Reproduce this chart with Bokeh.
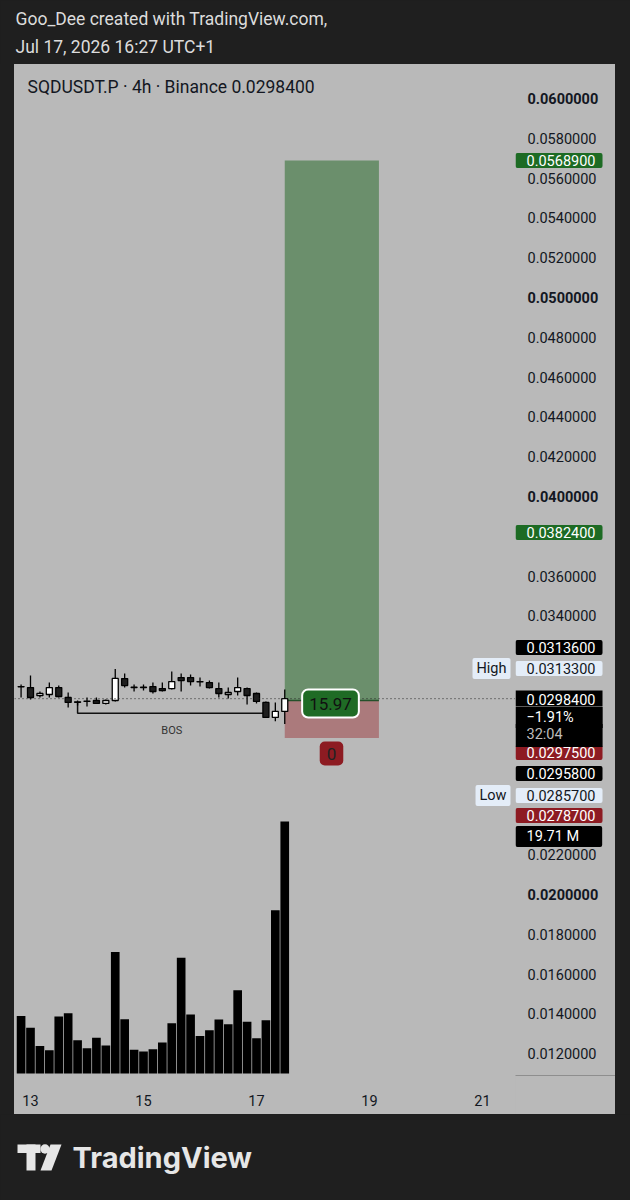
import pandas as pd
from bokeh.plotting import figure
from bokeh.models import (Range1d, FixedTicker, DatetimeTickFormatter,
                          Label, Span, ColumnDataSource, Spacer)
from bokeh.layouts import column, row
from bokeh.embed import file_html
from bokeh.resources import INLINE
from bokeh.core.properties import value

# ---------------- data ----------------
header_line1 = "Goo_Dee created with TradingView.com,"
header_line2 = "Jul 17, 2026 16:27 UTC+1"
symbol_title = "SQDUSDT.P · 4h · Binance  0.0298400"
first_candle = "2026-07-12 20:00"

opens = [0.03044, 0.03040, 0.02999, 0.03005, 0.03040, 0.02990, 0.02968, 0.02970, 0.02975, 0.02960,
         0.02975, 0.03085, 0.03042, 0.03040, 0.03045, 0.03035, 0.03035, 0.03090, 0.03090, 0.03068,
         0.03065, 0.03035, 0.03005, 0.03020, 0.03035, 0.03010, 0.02965, 0.02890, 0.02920]
highs = [0.03055, 0.03100, 0.03020, 0.03065, 0.03050, 0.03015, 0.02975, 0.02990, 0.02990, 0.02980,
         0.03133, 0.03110, 0.03055, 0.03055, 0.03065, 0.03065, 0.03120, 0.03110, 0.03105, 0.03090,
         0.03075, 0.03065, 0.03040, 0.03090, 0.03040, 0.03015, 0.02970, 0.02965, 0.03030]
lows = [0.02990, 0.02980, 0.02990, 0.02990, 0.02990, 0.02940, 0.02950, 0.02945, 0.02958, 0.02955,
        0.02970, 0.03040, 0.03020, 0.03025, 0.03010, 0.03020, 0.03030, 0.03020, 0.03050, 0.03045,
        0.03035, 0.02990, 0.02985, 0.03000, 0.02955, 0.02960, 0.02888, 0.02870, 0.02857]
closes = [0.03045, 0.02990, 0.03010, 0.03040, 0.02995, 0.02965, 0.02966, 0.02972, 0.02960, 0.02975,
          0.03086, 0.03050, 0.03040, 0.03042, 0.03020, 0.03025, 0.03070, 0.03075, 0.03070, 0.03070,
          0.03040, 0.03010, 0.03015, 0.03040, 0.03000, 0.02970, 0.02890, 0.02920, 0.02984]
volumes_m = [4.50, 3.57, 2.16, 1.82, 4.45, 4.71, 2.60, 1.98, 2.79, 2.19,
             9.50, 4.24, 1.85, 1.72, 1.90, 2.42, 3.93, 9.06, 4.61, 2.94,
             3.38, 4.22, 3.85, 6.51, 4.04, 2.76, 4.17, 12.76, 19.71]

day_ticks = ["2026-07-13", "2026-07-15", "2026-07-17", "2026-07-19", "2026-07-21"]
price_ticks = [round(0.012 + 0.002 * i, 3) for i in range(25)]
bold_price_ticks = [0.02, 0.03, 0.04, 0.05, 0.06]
hidden_price_ticks = [0.024, 0.026, 0.028, 0.030, 0.032, 0.038]   # covered by price badges

last_price = 0.02984
entry_price = 0.02975
target_price = 0.05689
stop_price = 0.02787
position_bars = 10
position_label = "15.97"
stop_label = "0"
bos_start_level = 0.02966
bos_level = 0.02911
bos_from, bos_to = 6, 26

# price-scale badges: (text, page y, kind)
badges = [
    ("0.0568900", 160, "green"),
    ("0.0382400", 532, "green"),
    ("0.0313600", 647, "black"),
    ("0.0313300", 668, "light"),
    ("0.0297500", 752, "red"),
    ("0.0295800", 773, "black"),
    ("0.0285700", 795, "light"),
    ("0.0278700", 815, "red"),
    ("19.71 M", 836, "black"),
]
side_tags = [("High", 668), ("Low", 795)]
price_box_lines = [("0.0298400", 698, "#ffffff"), ("\u22121.91%", 717, "#ffffff"), ("32:04", 735, "#bdbdbd")]

# ---------------- style ----------------
FONT = "Roboto"
PAGE_BG = "#1f1f1f"
PANEL = "#b9b9b9"
INK = "#131722"
GREEN_BOX = "#6b8f6c"
RED_BOX = "#ab7a7c"
BADGE = {"green": ("#1d6b24", "#ffffff"), "red": ("#8d1b22", "#ffffff"),
         "black": ("#000000", "#ffffff"), "light": ("#e4edf8", INK)}

bar_ms = 4 * 3600 * 1000
day_ms = 24 * 3600 * 1000
times = pd.date_range(first_candle, periods=len(opens), freq="4h")
tms = [t.value / 1e6 for t in times]

# calibration of page pixels -> data (for annotation placement only)
PX_DAY = 56.5
X13 = 30
t13 = pd.Timestamp("2026-07-13").value / 1e6


def xpx(px):
    return t13 + (px - X13) / PX_DAY * day_ms


def ypx(py):
    return 0.06 - (py - 98) / 19900.0


CHART_H = 1050
AXIS_H = 39
yr = Range1d(ypx(1075), ypx(64))

# ---------------- main chart ----------------
p = figure(width=501, height=CHART_H, x_axis_type="datetime", y_axis_location=None, title=None,
           x_range=Range1d(xpx(14), xpx(515)), y_range=yr,
           toolbar_location=None, output_backend="svg",
           min_border_left=0, min_border_top=0, min_border_right=0, min_border_bottom=AXIS_H,
           background_fill_color=PANEL, border_fill_color=PANEL, outline_line_color=None)
p.grid.visible = False

vol_scale = 19.71 / (1073 - 821)
p.extra_y_ranges = {"vol": Range1d(-(1075 - 1073) * vol_scale, (1073 - 64) * vol_scale)}

src = ColumnDataSource(dict(
    t=times, o=opens, h=highs, l=lows, c=closes, v=volumes_m,
    top=[max(o, c) for o, c in zip(opens, closes)],
    bot=[min(o, c) for o, c in zip(opens, closes)],
    fill=["#ffffff" if c >= o else "#1e1e1e" for o, c in zip(opens, closes)],
))

# volume
p.vbar(x="t", width=bar_ms * 0.92, top="v", bottom=0, y_range_name="vol", source=src,
       fill_color="#000000", line_color=None)

# position tool
pos_left = times[-1]
pos_right = times[-1] + pd.Timedelta(hours=4 * position_bars)
p.quad(left=[pos_left], right=[pos_right], bottom=[entry_price], top=[target_price],
       fill_color=GREEN_BOX, line_color=None)
p.quad(left=[pos_left], right=[pos_right], bottom=[stop_price], top=[entry_price],
       fill_color=RED_BOX, line_color=None)
p.segment(x0=[pos_left], y0=[entry_price], x1=[pos_right], y1=[entry_price],
          line_color="#24502a", line_width=1.5)

# BOS drawing
p.line(x=[times[bos_from], times[bos_from], times[bos_to]],
       y=[bos_start_level, bos_level, bos_level], line_color="#111111", line_width=1.5)

# candles
p.segment(x0="t", y0="l", x1="t", y1="h", source=src, line_color="#000000", line_width=1.3)
p.vbar(x="t", width=bar_ms * 0.64, top="top", bottom="bot", source=src,
       fill_color="fill", line_color="#000000", line_width=1.3)

p.add_layout(Span(location=last_price, dimension="width", line_color="#222222",
                  line_dash="1 3", line_width=1))

# time axis
p.xaxis.ticker = FixedTicker(ticks=[pd.Timestamp(d).value / 1e6 for d in day_ticks])
p.xaxis.formatter = DatetimeTickFormatter(days="%d", months="%d", hours="%d", years="%d")
ax = p.xaxis[0]
ax.axis_line_color = None
ax.major_tick_line_color = None
ax.minor_tick_line_color = None
ax.major_label_text_font = FONT
ax.major_label_text_font_size = "14.5px"
ax.major_label_text_color = INK
ax.major_label_standoff = 13

# texts in chart
p.add_layout(Label(x=xpx(27), y=ypx(86), text=symbol_title, text_font=FONT,
                   text_font_size="17.5px", text_color=INK, text_baseline="middle"))
p.add_layout(Label(x=(tms[bos_from] + tms[bos_to]) / 2, y=ypx(730), text="BOS", text_font=FONT,
                   text_font_size="11px", text_color="#333333", text_align="center",
                   text_baseline="middle"))
p.add_layout(Label(x=xpx(330), y=ypx(703), text=position_label, text_font=FONT,
                   text_font_size="17px", text_color="#111111", text_align="center",
                   text_baseline="middle", background_fill_color="#1f6b25",
                   border_line_color="#ffffff", border_line_width=2,
                   padding=dict(left=7, right=7, top=8, bottom=8), border_radius=6))
p.add_layout(Label(x=xpx(331), y=ypx(753), text=stop_label, text_font=FONT,
                   text_font_size="17px", text_color="#222222", text_align="center",
                   text_baseline="middle", background_fill_color="#8d1b22",
                   padding=dict(left=7, right=7, top=6, bottom=6), border_radius=5))
for txt, py in side_tags:
    p.add_layout(Label(x=xpx(510), y=ypx(py), text=txt, text_font=FONT, text_font_size="14.5px",
                       text_color=INK, text_align="right", text_baseline="middle",
                       background_fill_color=BADGE["light"][0],
                       padding=dict(left=4, right=4, top=2, bottom=2), border_radius=2))

# ---------------- price scale column ----------------
ps = figure(width=100, height=CHART_H, x_range=Range1d(0, 100), y_range=yr, title=None,
            y_axis_location=None, toolbar_location=None, output_backend="svg",
            min_border_left=0, min_border_top=0, min_border_right=0, min_border_bottom=AXIS_H,
            background_fill_color=PANEL, border_fill_color=PANEL, outline_line_color=None)
ps.grid.visible = False
ps.xaxis.ticker = FixedTicker(ticks=[])
ps.xaxis.axis_line_color = "#8e8e8e"
ps.xaxis.axis_line_width = 1
ps.xaxis.major_tick_line_color = None
ps.xaxis.minor_tick_line_color = None


def _in(t, lst):
    return any(abs(t - b) < 1e-9 for b in lst)


tick_src = ColumnDataSource(dict(
    y=price_ticks,
    label=["" if _in(t, hidden_price_ticks) else "%.7f" % t for t in price_ticks],
    style=["bold" if _in(t, bold_price_ticks) else "normal" for t in price_ticks],
))
ps.text(x=12, y="y", text="label", source=tick_src, text_font=value(FONT),
        text_font_size="14.5px", text_font_style="style", text_color=INK,
        text_baseline="middle", text_align="left")

for txt, py, kind in badges:
    bg, fg = BADGE[kind]
    w = 69 if "M" not in txt else 53
    ps.add_layout(Label(x=0, y=ypx(py), text=txt, text_font=FONT, text_font_size="14.5px",
                        text_color=fg, text_baseline="middle", background_fill_color=bg,
                        padding=dict(left=11, right=max(6, 76 - w), top=2, bottom=2),
                        border_radius=2))
for i, (txt, py, col) in enumerate(price_box_lines):
    w = {0: 69, 1: 47, 2: 36}[i]
    ps.add_layout(Label(x=0, y=ypx(py), text=txt, text_font=FONT, text_font_size="14.5px",
                        text_color=col, text_baseline="middle", background_fill_color="#000000",
                        padding=dict(left=11, right=76 - w, top=2 if i else 3,
                                     bottom=2 if i < 2 else 4)))

# ---------------- header ----------------
hdr = figure(width=630, height=64, x_range=Range1d(0, 630), y_range=Range1d(0, 64), title=None,
             toolbar_location=None, output_backend="svg", min_border=0,
             x_axis_location=None, y_axis_location=None,
             background_fill_color=PAGE_BG, border_fill_color=PAGE_BG, outline_line_color=None)
hdr.grid.visible = False
hdr.add_layout(Label(x=15, y=46, text=header_line1, text_font=FONT, text_font_size="17.5px",
                     text_color="#dcdcdc", text_baseline="middle"))
hdr.add_layout(Label(x=15, y=18, text=header_line2, text_font=FONT, text_font_size="17.5px",
                     text_color="#dcdcdc", text_baseline="middle"))

# ---------------- footer ----------------
FT_H = 86
ftr = figure(width=630, height=FT_H, x_range=Range1d(0, 630), y_range=Range1d(0, FT_H), title=None,
             toolbar_location=None, output_backend="svg", min_border=0,
             x_axis_location=None, y_axis_location=None,
             background_fill_color=PAGE_BG, border_fill_color=PAGE_BG, outline_line_color=None)
ftr.grid.visible = False
LOGO = "#e6e6e6"
cy = 43
ftr.quad(left=[17, 26], right=[40, 35], bottom=[cy + 4.5, cy - 13], top=[cy + 13, cy + 13],
         fill_color=LOGO, line_color=None)
ftr.circle(x=[44.5], y=[cy + 8.5], radius=4.7, fill_color=LOGO, line_color=None)
ftr.patch(x=[50, 61, 51, 40], y=[cy + 13, cy + 13, cy - 13, cy - 13], fill_color=LOGO, line_color=None)
ftr.add_layout(Label(x=72, y=cy, text="TradingView", text_font="Inter", text_font_size="29px",
                     text_font_style="bold", text_color=LOGO, text_baseline="middle"))

panel = row(p, ps, styles={"background-color": PANEL})
layout = column(
    hdr,
    row(Spacer(width=14, height=CHART_H), panel, Spacer(width=15, height=CHART_H)),
    ftr,
)

html = file_html(layout, INLINE)
html = html.replace("</head>", "<style>html,body{background:#1f1f1f !important;}</style></head>", 1)
open("out.html", "w").write(html)
